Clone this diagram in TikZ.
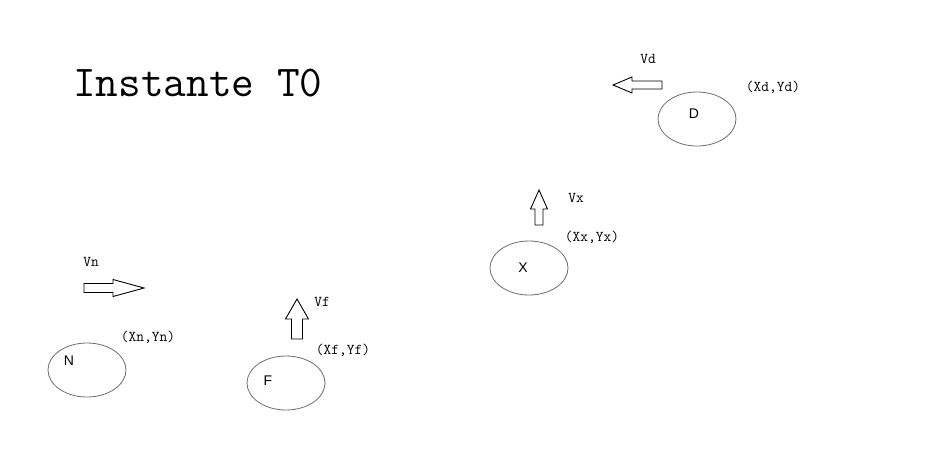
\documentclass[tikz,border=0pt]{standalone}
\usepackage{fontspec}
\setmainfont{Liberation Sans}
\usepackage{xcolor}
\usetikzlibrary{shapes.geometric}
\definecolor{rimc}{HTML}{6E6E6E}
\tikzset{
  body/.style={draw=rimc,thick,ellipse,minimum width=78pt,minimum height=54pt,inner sep=0pt},
  letter/.style={font=\fontsize{14}{16}\selectfont},
  lbl/.style={font=\ttfamily\fontsize{15}{17}\selectfont,inner sep=0pt},
  fatarrow/.style={draw=black,line width=0.9pt,fill=white,line join=miter}
}
% block arrow: tip, angle, head length, total length, head half width, shaft half width
\newcommand{\blockarrow}[6]{%
  \draw[fatarrow,shift={#1},rotate=#2] (0,0) -- (-#3,#5) -- (-#3,#6) -- (-#4,#6)
    -- (-#4,-#6) -- (-#3,-#6) -- (-#3,-#5) -- cycle;}
\begin{document}
\begin{tikzpicture}[x=1pt,y=-1pt]
\useasboundingbox[fill=white] (0,0) rectangle (947,456);
\node[font=\ttfamily\fontsize{44}{46}\selectfont,anchor=west,inner sep=0pt] (title) at (73,83) {Instante T0};
% bodies
\node[body] (D) at (697,119) {};
\node[body] (X) at (529,268) {};
\node[body] (N) at (87,370) {};
\node[body] (F) at (286,383) {};
\node[letter] (Dl) at (694,114) {D};
\node[letter] (Xl) at (523,268) {X};
\node[letter] (Nl) at (69,361) {N};
\node[letter] (Fl) at (268,381) {F};
% velocities
\blockarrow{(613,85)}{180}{19}{49}{8}{4}
\blockarrow{(539,190)}{90}{19}{35}{8.5}{4}
\blockarrow{(144,288)}{0}{31}{60}{8.5}{4.5}
\blockarrow{(297,299)}{90}{20}{40}{11.5}{5.5}
\node[lbl] (vd) at (648,59) {Vd};
\node[lbl] (vx) at (576,198) {Vx};
\node[lbl] (vn) at (91,262) {Vn};
\node[lbl] (vf) at (322,302) {Vf};
% positions
\node[lbl] (pd) at (773,87) {(Xd,Yd)};
\node[lbl] (px) at (592,237) {(Xx,Yx)};
\node[lbl] (pn) at (148,337) {(Xn,Yn)};
\node[lbl] (pf) at (343,350) {(Xf,Yf)};
\end{tikzpicture}
\end{document}
